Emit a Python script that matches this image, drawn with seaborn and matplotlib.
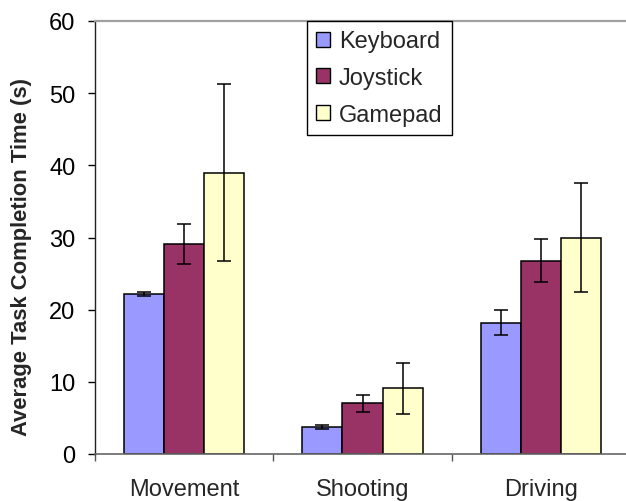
import matplotlib
matplotlib.use('agg')
import matplotlib.pyplot as plt
import numpy as np
import pandas as pd
import seaborn as sns

# task categories and input devices
tasks = ['Movement', 'Shooting', 'Driving']
devices = ['Keyboard', 'Joystick', 'Gamepad']

# mean completion time (s), one list per device, in task order
keyboard_mean = [22.2, 3.7, 18.2]
joystick_mean = [29.1, 7.0, 26.8]
gamepad_mean = [39.0, 9.1, 30.0]

# error bar half-lengths (s)
keyboard_err = [0.3, 0.25, 1.75]
joystick_err = [2.8, 1.2, 2.95]
gamepad_err = [12.3, 3.5, 7.55]

colors = ['#9999FF', '#993366', '#FFFFCC']

df = pd.DataFrame({
    'Task': tasks * 3,
    'Device': np.repeat(devices, 3),
    'Time': keyboard_mean + joystick_mean + gamepad_mean,
})
errs = {'Keyboard': keyboard_err, 'Joystick': joystick_err, 'Gamepad': gamepad_err}

sns.set_style('white')
plt.rcParams['font.family'] = ['Liberation Sans', 'DejaVu Sans']

fig = plt.figure(figsize=(6.26, 5.02), dpi=100)
ax = fig.add_axes([95 / 626, 47 / 502, 535 / 626, 433 / 502])

sns.barplot(data=df, x='Task', y='Time', hue='Device', order=tasks,
            hue_order=devices, palette=colors, width=0.675, errorbar=None,
            edgecolor='black', linewidth=1.1, saturation=1, ax=ax)

# draw the error bars on top of each bar
for cont, dev in zip(ax.containers, devices):
    xs = [p.get_x() + p.get_width() / 2 for p in cont.patches]
    hs = [p.get_height() for p in cont.patches]
    ax.errorbar(xs, hs, yerr=errs[dev], fmt='none', ecolor='black',
                elinewidth=1.1, capsize=4.7, capthick=1.1, zorder=5)

ax.set_xlim(-0.5, 2.5)
ax.set_ylim(0, 60)
ax.set_yticks(range(0, 61, 10))
ax.set_xlabel('')
ax.set_ylabel('Average Task Completion Time (s)', fontsize=15.8,
              fontweight='bold')
ax.yaxis.set_label_coords(-0.118, 0.457)

ax.tick_params(axis='y', which='major', length=5, width=1, direction='out',
               pad=9, labelsize=17, left=True, colors='black')
ax.tick_params(axis='x', which='major', length=0, pad=17, labelsize=17)
ax.set_xticks([-0.5, 0.5, 1.5, 2.5], minor=True)
ax.tick_params(axis='x', which='minor', length=5, width=1, direction='out',
               bottom=True, color='#555555')

ax.spines['right'].set_visible(False)
ax.spines['top'].set_color('#a0a0a0')
ax.spines['top'].set_linewidth(1.6)
ax.spines['left'].set_color('#222222')
ax.spines['left'].set_linewidth(1)
ax.spines['bottom'].set_color('#666666')
ax.spines['bottom'].set_linewidth(1.2)

leg = ax.legend(loc='upper left', bbox_to_anchor=(0.396, 1.0),
                borderaxespad=0, fontsize=17, frameon=True, fancybox=False,
                edgecolor='black', framealpha=1, handlelength=0.6,
                handleheight=0.6, handletextpad=0.35, labelspacing=0.62,
                borderpad=0.4)
leg.get_frame().set_linewidth(1)
for h in leg.legend_handles:
    h.set_edgecolor('black')
    h.set_linewidth(1)

fig.savefig('out.png', dpi=100)
